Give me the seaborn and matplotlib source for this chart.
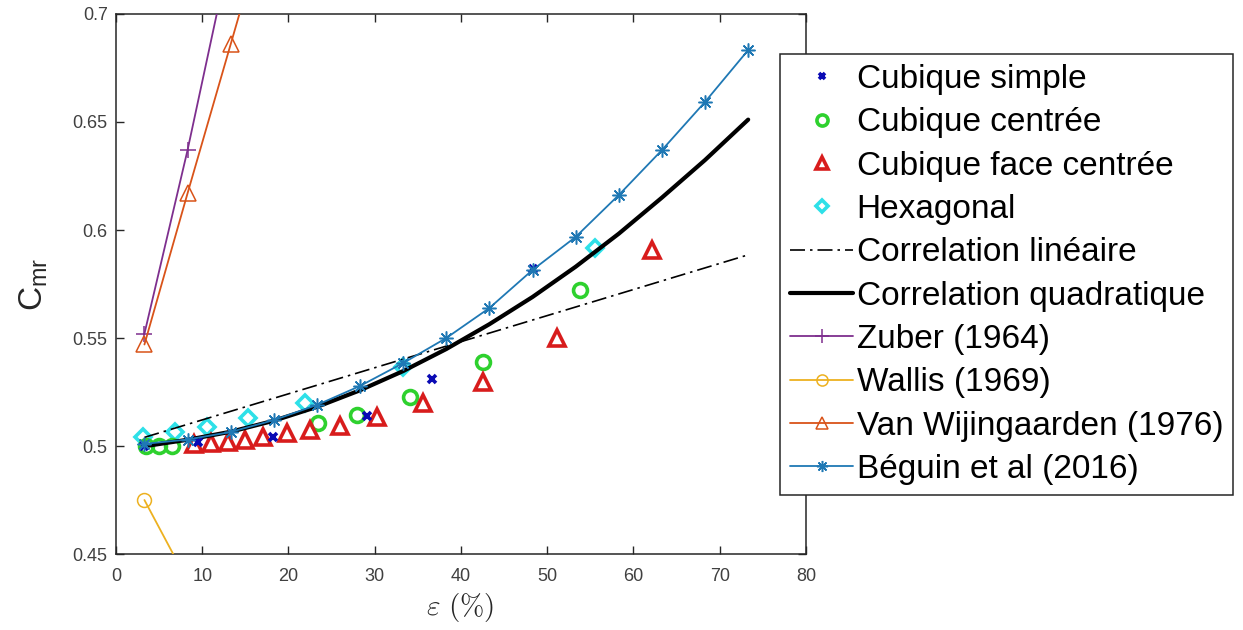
import matplotlib
matplotlib.use("Agg")
import matplotlib.pyplot as plt
from matplotlib.ticker import FormatStrFormatter, MultipleLocator
import seaborn as sns
import pandas as pd

sns.set_theme(style="white")
plt.rcParams["font.family"] = ["Liberation Sans", "DejaVu Sans"]

# Experimental points (epsilon in %, added-mass coefficient)
cs_eps = [3.3, 9.5, 18.2, 29.1, 36.6, 48.3]
cs_cm = [0.500, 0.502, 0.504, 0.514, 0.531, 0.582]

cc_eps = [3.5, 5.0, 6.5, 23.4, 27.9, 34.1, 42.6, 53.8]
cc_cm = [0.5000, 0.5000, 0.5002, 0.5106, 0.5144, 0.5227, 0.5389, 0.5722]

cfc_eps = [9.0, 11.0, 13.0, 15.0, 17.0, 19.8, 22.5, 26.0, 30.3, 35.6, 42.6, 51.1, 62.1]
cfc_cm = [0.5010, 0.5015, 0.5020, 0.5030, 0.5042, 0.5060, 0.5074, 0.5093, 0.5134,
          0.5199, 0.5296, 0.5500, 0.5907]

hex_eps = [3.1, 6.8, 10.6, 15.3, 21.9, 33.3, 55.5]
hex_cm = [0.5042, 0.5065, 0.5088, 0.5130, 0.5200, 0.5366, 0.5917]

# Correlations
lin_eps = [3.3, 73.3]
lin_cm = [0.5040, 0.5885]

grid_eps = [3.3, 8.3, 13.3, 18.3, 23.3, 28.3, 33.3, 38.3, 43.3, 48.3,
            53.3, 58.3, 63.3, 68.3, 73.3]
quad_cm = [0.4999, 0.5029, 0.5066, 0.5117, 0.5181, 0.5258, 0.5347, 0.5449,
           0.5564, 0.5690, 0.5830, 0.5983, 0.6150, 0.6324, 0.6511]

# Models from the literature
zuber_eps = [3.3, 8.3, 13.3]
zuber_cm = [0.552, 0.637, 0.730]

wallis_eps = [3.3, 8.3]
wallis_cm = [0.475, 0.4375]

vw_eps = [3.3, 8.3, 13.3, 18.3]
vw_cm = [0.547, 0.617, 0.686, 0.755]

beguin_cm = [0.501, 0.503, 0.5065, 0.512, 0.519, 0.5278, 0.5384, 0.550,
             0.5639, 0.5815, 0.5968, 0.6162, 0.637, 0.6593, 0.6833]

fig = plt.figure(figsize=(12.43, 6.30), dpi=100)
ax = fig.add_axes([0.0933, 0.1206, 0.5551, 0.8572])

ink = "#262626"


def pts(eps, cm):
    return pd.DataFrame({"eps": eps, "cm": cm})


def markers(eps, cm, label, marker, color, ms, mew, z):
    sns.lineplot(data=pts(eps, cm), x="eps", y="cm", ax=ax, estimator=None,
                 sort=False, linestyle="none", marker=marker, markersize=ms,
                 markerfacecolor="none", markeredgecolor=color,
                 markeredgewidth=mew, color=color, label=label, zorder=z)


def curve(eps, cm, label, color, lw, ls="-", marker=None, ms=8, z=3):
    sns.lineplot(data=pts(eps, cm), x="eps", y="cm", ax=ax, estimator=None,
                 sort=False, linestyle=ls, linewidth=lw, color=color,
                 marker=marker, markersize=ms, markerfacecolor="none",
                 markeredgecolor=color, markeredgewidth=1.1, label=label,
                 zorder=z)


markers(cs_eps, cs_cm, "Cubique simple", "x", "#0a0ab4", 6, 2.6, 6)
markers(cc_eps, cc_cm, "Cubique centrée", "o", "#2ed12e", 10, 2.6, 4)
markers(cfc_eps, cfc_cm, "Cubique face centrée", "^", "#d81c1c", 11, 2.6, 4)
markers(hex_eps, hex_cm, "Hexagonal", "D", "#2ee0e8", 8, 2.6, 3)

curve(lin_eps, lin_cm, "Correlation linéaire", "black", 1.2, ls=(0, (9, 3, 1.5, 3)), z=5)
curve(grid_eps, quad_cm, "Correlation quadratique", "black", 3.0, z=5)
curve(zuber_eps, zuber_cm, "Zuber (1964)", "#7e2f8e", 1.3, marker="+", ms=12)
curve(wallis_eps, wallis_cm, "Wallis (1969)", "#edb120", 1.3, marker="o", ms=10)
curve(vw_eps, vw_cm, "Van Wijingaarden (1976)", "#d95319", 1.3, marker="^", ms=11)
curve(grid_eps, beguin_cm, "Béguin et al (2016)", "#1f78b4", 1.3,
      marker=(8, 2, 0), ms=10, z=6)

handles, labels = ax.get_legend_handles_labels()
if ax.get_legend() is not None:
    ax.get_legend().remove()

ax.set_xlim(0, 80)
ax.set_ylim(0.45, 0.7)
ax.xaxis.set_major_locator(MultipleLocator(10))
ax.yaxis.set_major_locator(MultipleLocator(0.05))
ax.yaxis.set_major_formatter(FormatStrFormatter("%g"))
ax.tick_params(axis="both", which="major", direction="in", length=6, width=1,
               color=ink, labelcolor="#404040", labelsize=13,
               top=True, right=True, bottom=True, left=True)
ax.tick_params(axis="x", pad=10)
ax.tick_params(axis="y", pad=6)
for s in ax.spines.values():
    s.set_color(ink)
    s.set_linewidth(1.1)

ax.set_xlabel(r"$\varepsilon\ (\%)$", fontsize=21, math_fontfamily="cm", color=ink)
ax.xaxis.set_label_coords(0.4986, -0.068)
ax.set_ylabel(r"C$_\mathregular{mr}$", fontsize=24, color=ink)
ax.yaxis.set_label_coords(-0.095, 0.5)

leg = fig.legend(handles, labels, loc="upper left",
                 bbox_to_anchor=(0.6275, 0.9143), bbox_transform=fig.transFigure,
                 fontsize=24, frameon=True, fancybox=False, framealpha=1,
                 edgecolor=ink, labelspacing=0.37, handlelength=1.9,
                 handletextpad=0.1, borderpad=0.3, borderaxespad=0,
                 markerscale=0.8)
leg.get_frame().set_linewidth(1.1)
for t in leg.get_texts():
    t.set_color("black")

fig.savefig("out.png", dpi=100)
